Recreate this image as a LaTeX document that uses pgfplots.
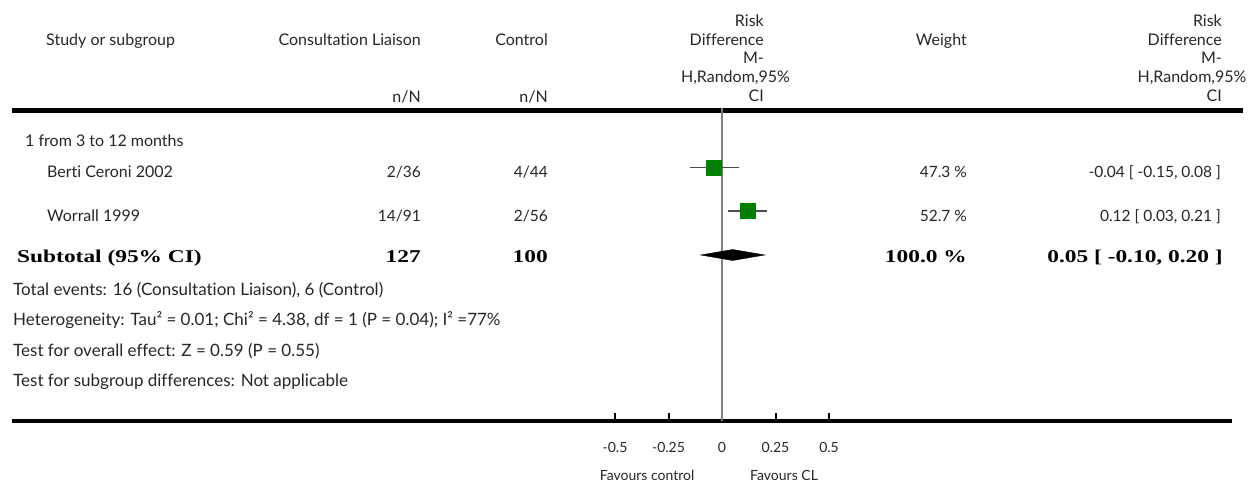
\documentclass[border=0pt]{standalone}
\usepackage{pgfplots}
\pgfplotsset{compat=1.18}
\usepackage{fontspec}
\setmainfont{Lato}[Ligatures=NoCommon]
\newfontfamily\bserif[FakeStretch=1.3]{Liberation Serif}
\begin{document}
\begin{tikzpicture}[
  txt/.style={font=\fontsize{16}{18}\selectfont, text=black!85, inner sep=0pt},
  ftr/.style={font=\fontsize{17}{19}\selectfont, text=black!85, inner sep=0pt},
  num/.style={font=\fontsize{15.5}{18}\selectfont, text=black!85, inner sep=0pt},
  sml/.style={font=\fontsize{14}{16}\selectfont, text=black!85, inner sep=0pt},
  bld/.style={font=\bserif\bfseries\fontsize{18}{20}\selectfont, text=black, inner sep=0pt}]
\useasboundingbox (0,0) rectangle (1259pt,484pt);
% ---------- text layer (pixel coordinates) ----------
\begin{axis}[at={(0pt,0pt)}, anchor=south west, scale only axis,
  width=1259pt, height=484pt, xmin=0, xmax=1259, ymin=0, ymax=484,
  y dir=reverse, hide axis, clip=false]
  % header
  \node[txt, anchor=base west] at (axis cs:46,46) {Study or subgroup};
  \node[txt, anchor=base east] at (axis cs:421,46) {Consultation Liaison};
  \node[txt, anchor=base east] at (axis cs:548,46) {Control};
  \node[txt, anchor=base east] at (axis cs:421,103) {n/N};
  \node[txt, anchor=base east] at (axis cs:548,103) {n/N};
  \node[txt, anchor=base east] at (axis cs:764,27) {Risk};
  \node[txt, anchor=base east] at (axis cs:764,46) {Difference};
  \node[txt, anchor=base east] at (axis cs:764,64) {M-};
  \node[txt, anchor=base] at (axis cs:735.5,83) {H,Random,95\%};
  \node[txt, anchor=base east] at (axis cs:764,102) {CI};
  \node[txt, anchor=base east] at (axis cs:967,46) {Weight};
  \node[txt, anchor=base east] at (axis cs:1222,27) {Risk};
  \node[txt, anchor=base east] at (axis cs:1222,46) {Difference};
  \node[txt, anchor=base east] at (axis cs:1222,64) {M-};
  \node[txt, anchor=base] at (axis cs:1192,83) {H,Random,95\%};
  \node[txt, anchor=base east] at (axis cs:1222,102) {CI};
  \draw[line width=5pt] (axis cs:12,110.5) -- (axis cs:1243,110.5);
  % rows
  \node[txt, anchor=base west] at (axis cs:25,147) {1 from 3 to 12 months};
  \node[txt, anchor=base west] at (axis cs:47,178) {Berti Ceroni 2002};
  \node[num, anchor=base east] at (axis cs:421,178) {2/36};
  \node[num, anchor=base east] at (axis cs:548,178) {4/44};
  \node[num, anchor=base east] at (axis cs:967,178) {47.3 \%};
  \node[num, anchor=base east] at (axis cs:1221,178) {-0.04 [ -0.15, 0.08 ]};
  \node[txt, anchor=base west] at (axis cs:47,222) {Worrall 1999};
  \node[num, anchor=base east] at (axis cs:421,222) {14/91};
  \node[num, anchor=base east] at (axis cs:548,222) {2/56};
  \node[num, anchor=base east] at (axis cs:967,222) {52.7 \%};
  \node[num, anchor=base east] at (axis cs:1221,222) {0.12 [ 0.03, 0.21 ]};
  \node[bld, anchor=base west] at (axis cs:17,263) {Subtotal (95\% CI)};
  \node[bld, anchor=base east] at (axis cs:421,263) {127};
  \node[bld, anchor=base east] at (axis cs:548,263) {100};
  \node[bld, anchor=base east] at (axis cs:967,263) {100.0 \%};
  \node[bld, anchor=base east] at (axis cs:1223,263) {0.05 [ -0.10, 0.20 ]};
  % footers
  \node[ftr, anchor=base west] at (axis cs:13,295) {Total events: 16 (Consultation Liaison), 6 (Control)};
  \node[ftr, anchor=base west] at (axis cs:13,326) {Heterogeneity: Tau² = 0.01; Chi² = 4.38, df = 1 (P = 0.04); I² =77\%};
  \node[ftr, anchor=base west] at (axis cs:13,356) {Test for overall effect: Z = 0.59 (P = 0.55)};
  \node[ftr, anchor=base west] at (axis cs:13,386) {Test for subgroup differences: Not applicable};
\end{axis}
% ---------- forest plot (risk difference) ----------
\begin{axis}[at={(12pt,63pt)}, anchor=south west, scale only axis,
  width=1220pt, height=313pt,
  xmin=-3.3178, xmax=2.3832, ymin=0, ymax=313,
  axis x line*=bottom, axis y line=none,
  x axis line style={-, line width=3.5pt, black},
  xtick={-0.5,-0.25,0,0.25,0.5}, xticklabels={}, ytick=\empty,
  tick align=inside, major tick length=8pt,
  tick style={line width=2pt, black},
  clip=false]
  \addplot[gray, line width=1.3pt] coordinates {(0,0) (0,313)};
  % confidence intervals
  \addplot[black!70, line width=1.8pt] coordinates {(-0.15,253.5) (0.08,253.5)};
  \addplot[black!70, line width=1.8pt] coordinates {(0.03,210) (0.21,210)};
  % point estimates
  \addplot[only marks, mark=square*, mark size=7.5pt, color=green!50!black,
    mark options={draw=none, fill=green!50!black}] coordinates {(-0.04,253.5) (0.12,210)};
  \addplot[only marks, mark=|, mark size=2.5pt, black!70, line width=1pt] coordinates {(-0.04,253.5) (0.12,210)};
  % pooled estimate
  \addplot[fill=black, draw=black] coordinates {(-0.10,166) (0.05,171.5) (0.20,166) (0.05,160.5)} -- cycle;
  % tick labels and direction labels
  \node[sml, anchor=base] at (axis cs:-0.5,-32) {-0.5};
  \node[sml, anchor=base] at (axis cs:-0.25,-32) {-0.25};
  \node[sml, anchor=base] at (axis cs:0,-32) {0};
  \node[sml, anchor=base] at (axis cs:0.25,-32) {0.25};
  \node[sml, anchor=base] at (axis cs:0.5,-32) {0.5};
  \node[sml, anchor=base] at (axis cs:-0.35,-60) {Favours control};
  \node[sml, anchor=base] at (axis cs:0.29,-60) {Favours CL};
\end{axis}
\end{tikzpicture}
\end{document}
